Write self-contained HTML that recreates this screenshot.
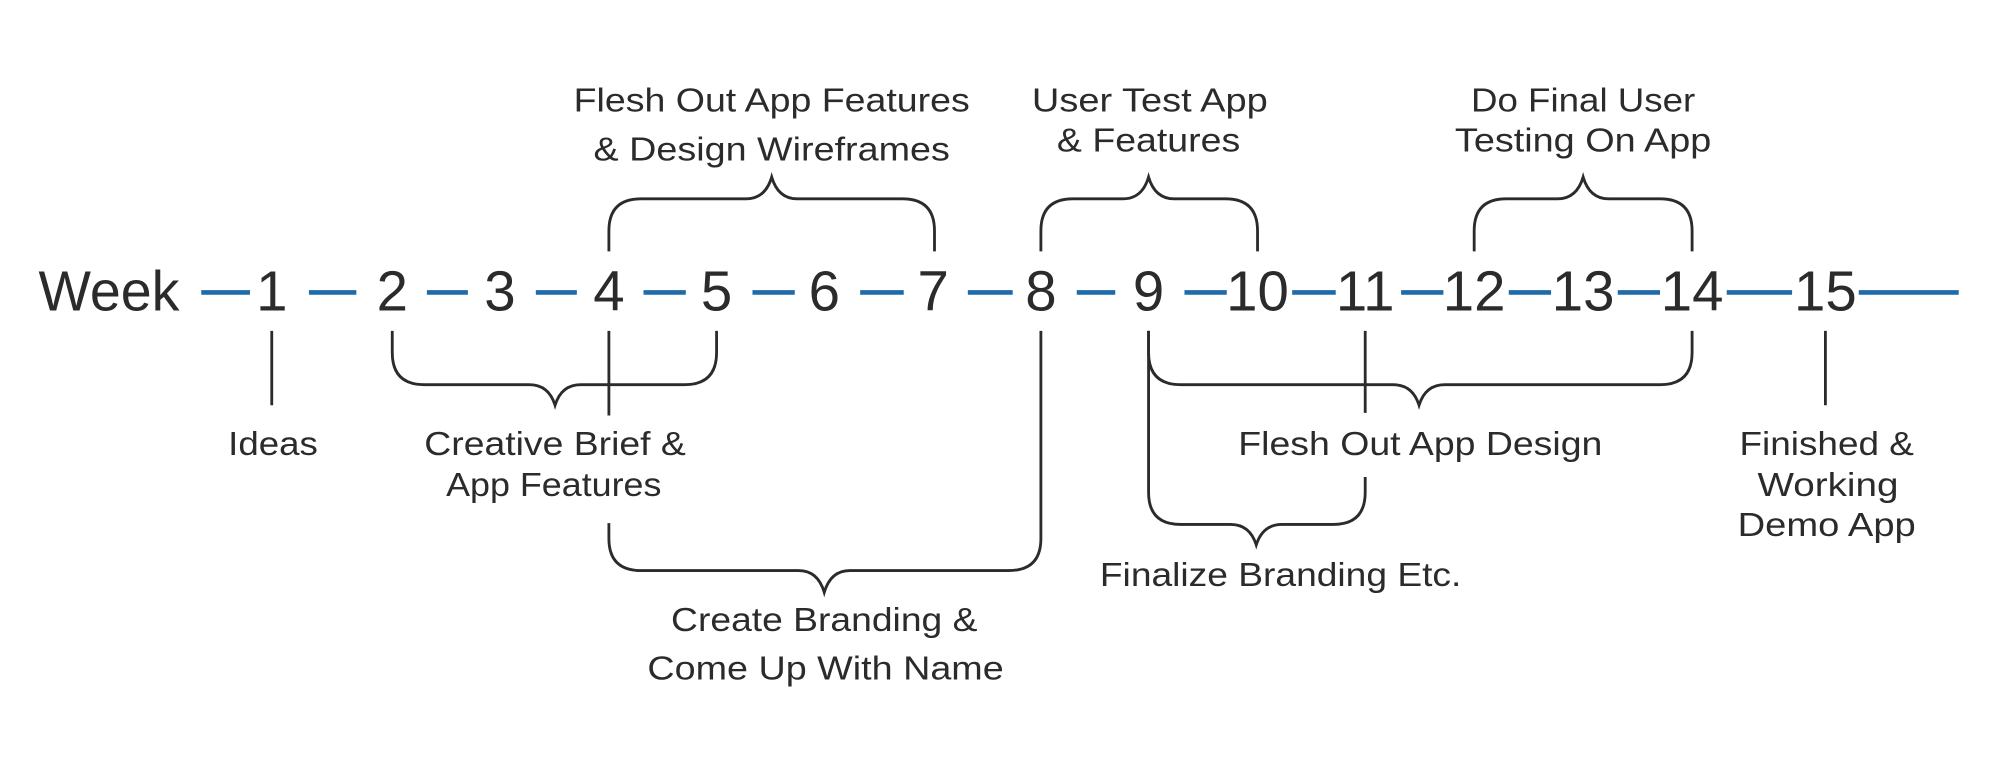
<!DOCTYPE html>
<html><head><meta charset="utf-8"><style>
html,body{margin:0;padding:0;background:#fff;}
svg{display:block;}
text{font-family:"Liberation Sans",sans-serif;fill:#2b2b2b;}
</style></head><body>
<svg width="2010" height="772" viewBox="0 0 1568 602" xmlns="http://www.w3.org/2000/svg">
<rect width="1568" height="602" fill="#fff"/>
<g stroke="#1f6aa8" stroke-width="3.6">
<line x1="157" y1="228" x2="195" y2="228"/>
<line x1="241" y1="228" x2="278" y2="228"/>
<line x1="333" y1="228" x2="365" y2="228"/>
<line x1="418" y1="228" x2="450" y2="228"/>
<line x1="502" y1="228" x2="535" y2="228"/>
<line x1="587" y1="228" x2="620" y2="228"/>
<line x1="671" y1="228" x2="705" y2="228"/>
<line x1="755" y1="228" x2="790" y2="228"/>
<line x1="840" y1="228" x2="870" y2="228"/>
<line x1="924" y1="228" x2="957" y2="228"/>
<line x1="1008" y1="228" x2="1042" y2="228"/>
<line x1="1093" y1="228" x2="1126" y2="228"/>
<line x1="1177" y1="228" x2="1210" y2="228"/>
<line x1="1262" y1="228" x2="1295" y2="228"/>
<line x1="1347" y1="228" x2="1398" y2="228"/>
<line x1="1450" y1="228" x2="1528" y2="228"/>
</g>
<g font-size="44" text-anchor="middle">
<text x="85" y="242" textLength="110" lengthAdjust="spacingAndGlyphs">Week</text>
<text x="212" y="242">1</text><text x="306" y="242">2</text><text x="390" y="242">3</text>
<text x="475" y="242">4</text><text x="559" y="242">5</text><text x="643" y="242">6</text>
<text x="728" y="242">7</text><text x="812" y="242">8</text><text x="896" y="242">9</text>
<text x="981" y="242">10</text><text x="1065" y="242">11</text><text x="1150" y="242">12</text>
<text x="1235" y="242">13</text><text x="1320" y="242">14</text><text x="1424" y="242">15</text>
</g>
<g fill="none" stroke="#2b2b2b" stroke-width="2.2">
<path d="M475 196 V180 Q475 155 500 155 H582 Q597 155 602 138 Q607 155 622 155 H704 Q729 155 729 180 V196"/>
<path d="M812 196 V180 Q812 155 837 155 H876 Q891 155 896 138 Q901 155 916 155 H956 Q981 155 981 180 V196"/>
<path d="M1150 196 V180 Q1150 155 1175 155 H1215 Q1230 155 1235 138 Q1240 155 1255 155 H1295 Q1320 155 1320 180 V196"/>
<line x1="212" y1="258" x2="212" y2="316"/>
<path d="M306 258 V275 Q306 300 331 300 H413 Q428 300 433 316 Q438 300 453 300 H534 Q559 300 559 275 V258"/>
<line x1="475" y1="258" x2="475" y2="324"/>
<path d="M475 408 V420 Q475 445 500 445 H623 Q638 445 643 462 Q648 445 663 445 H787 Q812 445 812 420 V258"/>
<path d="M896 258 V275 Q896 300 921 300 H1087 Q1102 300 1107 316 Q1112 300 1127 300 H1295 Q1320 300 1320 275 V258"/>
<path d="M896 258 V384 Q896 409 921 409 H960 Q975 409 980 425 Q985 409 1000 409 H1040 Q1065 409 1065 384 V372"/>
<line x1="1065" y1="258" x2="1065" y2="322"/>
<line x1="1424" y1="258" x2="1424" y2="316"/>
</g>
<g font-size="26" text-anchor="middle">
<text x="602" y="87" textLength="309" lengthAdjust="spacingAndGlyphs">Flesh Out App Features</text>
<text x="602" y="125" textLength="278" lengthAdjust="spacingAndGlyphs">&amp; Design Wireframes</text>
<text x="897" y="87" textLength="184" lengthAdjust="spacingAndGlyphs">User Test App</text>
<text x="896" y="118" textLength="143" lengthAdjust="spacingAndGlyphs">&amp; Features</text>
<text x="1235" y="87" textLength="175" lengthAdjust="spacingAndGlyphs">Do Final User</text>
<text x="1235" y="118" textLength="200" lengthAdjust="spacingAndGlyphs">Testing On App</text>
<text x="213" y="355" textLength="70" lengthAdjust="spacingAndGlyphs">Ideas</text>
<text x="433" y="355" textLength="204" lengthAdjust="spacingAndGlyphs">Creative Brief &amp;</text>
<text x="432" y="387" textLength="168" lengthAdjust="spacingAndGlyphs">App Features</text>
<text x="643" y="492" textLength="239" lengthAdjust="spacingAndGlyphs">Create Branding &amp;</text>
<text x="644" y="530" textLength="278" lengthAdjust="spacingAndGlyphs">Come Up With Name</text>
<text x="1108" y="355" textLength="284" lengthAdjust="spacingAndGlyphs">Flesh Out App Design</text>
<text x="999" y="457" textLength="282" lengthAdjust="spacingAndGlyphs">Finalize Branding Etc.</text>
<text x="1425" y="355" textLength="136" lengthAdjust="spacingAndGlyphs">Finished &amp;</text>
<text x="1426" y="387" textLength="110" lengthAdjust="spacingAndGlyphs">Working</text>
<text x="1425" y="418" textLength="139" lengthAdjust="spacingAndGlyphs">Demo App</text>
</g>
</svg>
</body></html>
